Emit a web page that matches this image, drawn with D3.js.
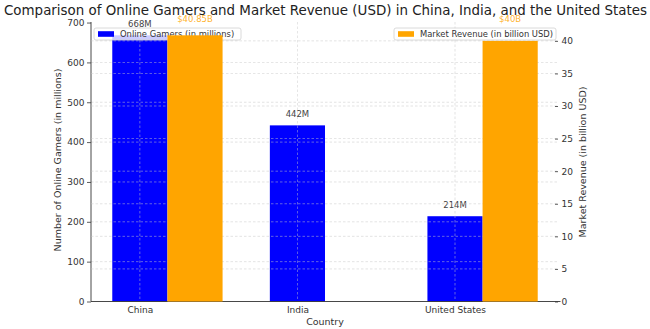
<!DOCTYPE html>
<html>
<head>
<meta charset="utf-8">
<script src="https://cdn.jsdelivr.net/npm/d3@7"></script>
<style>
  html, body { margin: 0; padding: 0; background: #fff; }
  svg { display: block; font-family: "DejaVu Sans", sans-serif; }
</style>
</head>
<body>
<svg id="chart" width="650" height="329"></svg>
<script>
// Data
const countries = ["China", "India", "United States"];
const gamers = [668, 442, 214];            // millions
const revenue = [40.85, null, 40];          // billion USD (no figure for India)
const gamerLabels = ["668M", "442M", "214M"];
const revenueLabels = ["$40.85B", null, "$40B"];
const leftTicks = [0, 100, 200, 300, 400, 500, 600, 700];
const rightTicks = [0, 5, 10, 15, 20, 25, 30, 35, 40];

const svg = d3.select("#chart");
const plot = { left: 91, right: 559, top: 22, bottom: 301.5 };

const barW = 0.35;
const x = d3.scaleLinear().domain([-0.31, 2.66]).range([plot.left, plot.right]);
const y1 = d3.scaleLinear().domain([0, 668 * 1.05]).range([plot.bottom, plot.top]);
const y2 = d3.scaleLinear().domain([0, 40.85 * 1.05]).range([plot.bottom, plot.top]);

const BLUE = "#0000ff", ORANGE = "#ffa500", TEXT = "#333";
const gridStyle = sel => sel.attr("stroke", "#c8c8c8").attr("stroke-width", 0.7)
  .attr("stroke-dasharray", "2.5,2").attr("opacity", 0.7);

// ---- primary axes: online gamers ----
const ax1 = svg.append("g");

ax1.append("g").selectAll("rect").data(gamers).join("rect")
  .attr("x", (d, i) => x(i - barW / 2))
  .attr("width", (d, i) => x(i + barW / 2) - x(i - barW / 2))
  .attr("y", d => y1(d))
  .attr("height", d => y1(0) - y1(d))
  .attr("fill", BLUE);

// grid of the primary axes sits above its bars
ax1.append("g").selectAll("line").data(leftTicks.filter(t => t > 0 && t < 700)).join("line")
  .attr("x1", plot.left).attr("x2", plot.right)
  .attr("y1", d => y1(d)).attr("y2", d => y1(d))
  .call(gridStyle);
ax1.append("g").selectAll("line").data(countries).join("line")
  .attr("x1", (d, i) => x(i)).attr("x2", (d, i) => x(i))
  .attr("y1", plot.top).attr("y2", plot.bottom)
  .call(gridStyle);

// left axis
const leftAxis = ax1.append("g")
  .attr("transform", `translate(${plot.left},0)`)
  .call(d3.axisLeft(y1).tickValues(leftTicks).tickSize(4).tickPadding(2.5));
leftAxis.select(".domain").attr("d", `M0,${plot.top}V${plot.bottom}`).attr("stroke", TEXT).attr("stroke-width", 0.9);
leftAxis.selectAll(".tick line").attr("stroke", TEXT).attr("stroke-width", 0.8);
leftAxis.selectAll(".tick text").attr("fill", TEXT).attr("font-size", 9).attr("font-family", "DejaVu Sans");

// bottom axis
const bottomAxis = ax1.append("g")
  .attr("transform", `translate(0,${plot.bottom})`)
  .call(d3.axisBottom(x).tickValues([0, 1, 2]).tickFormat(i => countries[i]).tickSize(0).tickPadding(5));
bottomAxis.select(".domain").attr("d", `M${plot.left},0H${plot.right + 1.5}`).attr("stroke", TEXT).attr("stroke-width", 0.9);
bottomAxis.selectAll(".tick text").attr("fill", TEXT).attr("font-size", 9).attr("font-family", "DejaVu Sans");

// value labels above the blue bars
ax1.append("g").selectAll("text").data(gamers).join("text")
  .attr("x", (d, i) => x(i))
  .attr("y", d => y1(d) - 8)
  .attr("text-anchor", "middle")
  .attr("font-size", 8.5)
  .attr("fill", "#444")
  .text((d, i) => gamerLabels[i]);

// legend box: translucent white frame, colour patch and label
function legend(g, bx, by, bw, bh, color, label) {
  g.append("rect").attr("x", bx).attr("y", by).attr("width", bw).attr("height", bh)
    .attr("rx", 2).attr("fill", "#fff").attr("fill-opacity", 0.8)
    .attr("stroke", "#d0d0d0").attr("stroke-width", 0.8);
  g.append("rect").attr("x", bx + 4).attr("y", by + bh / 2 - 2.8).attr("width", 16).attr("height", 5.6)
    .attr("fill", color);
  g.append("text").attr("x", bx + 26).attr("y", by + bh / 2).attr("dy", "0.35em")
    .attr("font-size", 8.4).attr("fill", TEXT).text(label);
}
legend(ax1.append("g"), 94, 28, 147, 12, BLUE, "Online Gamers (in millions)");

// ---- secondary axes: market revenue ----
const ax2 = svg.append("g");

ax2.append("g").selectAll("line").data(rightTicks.filter(t => t > 0)).join("line")
  .attr("x1", plot.left).attr("x2", plot.right)
  .attr("y1", d => y2(d)).attr("y2", d => y2(d))
  .call(gridStyle);

const revData = revenue.map((v, i) => ({ v, i })).filter(d => d.v != null);
ax2.append("g").selectAll("rect").data(revData).join("rect")
  .attr("x", d => x(d.i + barW / 2))
  .attr("width", d => x(d.i + barW * 1.5) - x(d.i + barW / 2))
  .attr("y", d => y2(d.v))
  .attr("height", d => y2(0) - y2(d.v))
  .attr("fill", ORANGE);

ax2.append("g").selectAll("text").data(revData).join("text")
  .attr("x", d => x(d.i + barW))
  .attr("y", y2.range()[1] - 0.3)
  .attr("text-anchor", "middle")
  .attr("font-size", 8.5)
  .attr("fill", ORANGE)
  .attr("fill-opacity", 0.85)
  .text(d => revenueLabels[d.i]);

// right axis: ticks only, no spine
const rightAxis = ax2.append("g")
  .attr("transform", `translate(${plot.right - 4},0)`)
  .call(d3.axisRight(y2).tickValues(rightTicks).tickSize(3).tickPadding(3.5));
rightAxis.select(".domain").remove();
rightAxis.selectAll(".tick line").attr("stroke", TEXT).attr("stroke-width", 0.8);
rightAxis.selectAll(".tick text").attr("fill", TEXT).attr("font-size", 9).attr("font-family", "DejaVu Sans");

legend(ax2.append("g"), 394, 28, 162, 12, ORANGE, "Market Revenue (in billion USD)");

// ---- titles ----
const title = svg.append("text")
  .attr("x", 325.5).attr("y", 15)
  .attr("text-anchor", "middle").attr("font-size", 14).attr("fill", "#222")
  .text("Comparison of Online Gamers and Market Revenue (USD) in China, India, and the United States");
// size the title so it spans the full width of the figure
const tw = title.node().getComputedTextLength();
title.attr("font-size", 14 * 644 / tw);

svg.append("text")
  .attr("transform", "translate(58,160) rotate(-90)")
  .attr("text-anchor", "middle").attr("dy", "0.35em")
  .attr("font-size", 9.5).attr("fill", TEXT)
  .text("Number of Online Gamers (in millions)");

svg.append("text")
  .attr("transform", "translate(583,162) rotate(-90)")
  .attr("text-anchor", "middle").attr("dy", "0.35em")
  .attr("font-size", 9.5).attr("fill", TEXT)
  .text("Market Revenue (in billion USD)");

svg.append("text")
  .attr("x", 325).attr("y", 321.5).attr("dy", "0.35em")
  .attr("text-anchor", "middle").attr("font-size", 9.5).attr("fill", TEXT)
  .text("Country");
</script>
</body>
</html>
